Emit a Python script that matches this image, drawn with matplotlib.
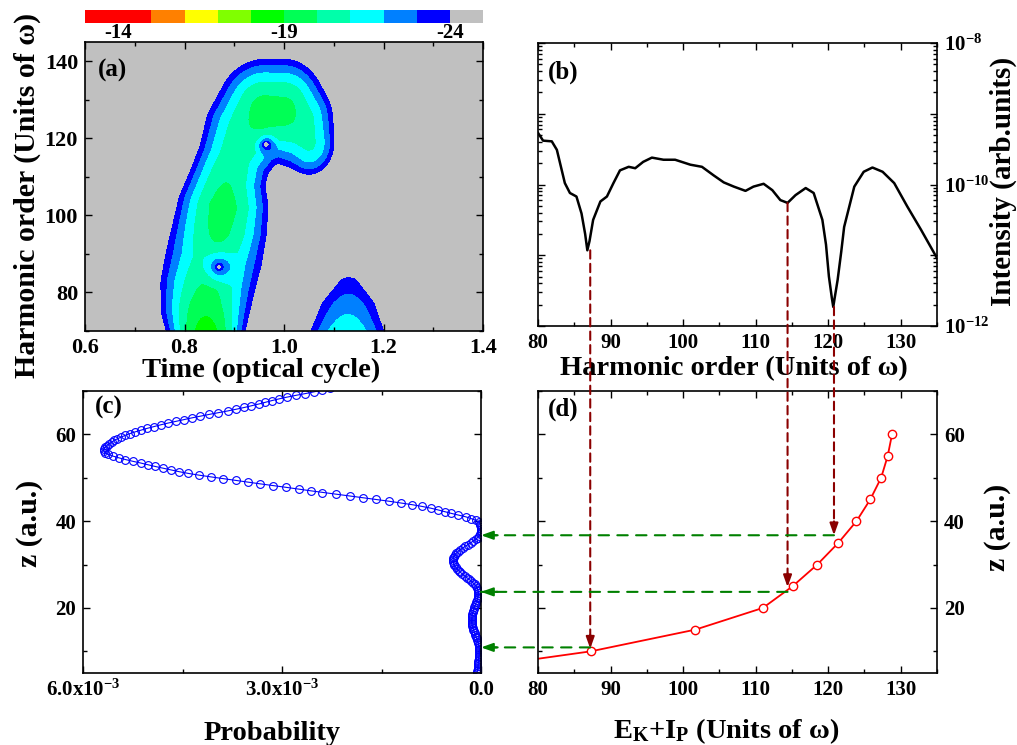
import numpy as np
import matplotlib
matplotlib.use("Agg")
import matplotlib.pyplot as plt
from matplotlib.patches import ConnectionPatch
from matplotlib.ticker import MultipleLocator, FixedLocator, FuncFormatter, NullFormatter

# ------------------------------------------------------------
# style
# ------------------------------------------------------------
plt.rcParams["font.family"] = "Liberation Serif"
plt.rcParams["font.weight"] = "bold"
plt.rcParams["axes.labelweight"] = "bold"
plt.rcParams["mathtext.fontset"] = "custom"
plt.rcParams["mathtext.rm"] = "Liberation Serif:bold"
plt.rcParams["mathtext.it"] = "Liberation Serif:bold"
plt.rcParams["mathtext.bf"] = "Liberation Serif:bold"
plt.rcParams["axes.linewidth"] = 1.2

TICK_FS = 15
XLABEL_FS = 20.5
YLABEL_FS = 21.5
PANEL_FS = 18
DARKRED = "#8B0000"
GREEN = "#008000"

# ------------------------------------------------------------
# (a) time-frequency map: colour levels and ridge description
# ------------------------------------------------------------
cb_edges = [-13, -15, -16, -17, -18, -19, -20, -21, -22, -23, -24, -25]
cb_colors = ["#FF0000", "#FF8000", "#FFFF00", "#80FF00", "#00FF00", "#00FF55",
             "#00FFAA", "#00FFFF", "#0080FF", "#0000FF", "#C0C0C0"]
cb_ticks = [-14, -19, -24]

# main ridge: time, harmonic, half width (px, along t / along H), peak log-level
ridge_time = [0.843, 0.843, 0.842, 0.847, 0.859, 0.870, 0.877, 0.884, 0.900, 0.926, 0.962, 1.000, 1.030, 1.050]
ridge_harm = [64, 70, 76, 82, 89, 96, 102, 108, 115, 122, 127, 127, 124, 119]
ridge_wt = [37, 38, 44, 47, 48, 47, 45, 38, 36, 42, 48, 42, 34, 25]
ridge_wh = [40, 40, 40, 40, 40, 40, 40, 40, 36, 44, 52, 52, 46, 32]
ridge_peak = [-18.3, -18.6, -19.4, -20.0, -20.4, -19.8, -19.6, -20.0, -20.4, -20.2, -19.6, -19.7, -20.3, -20.8]

# second (short) burst
lobe_time = [1.126, 1.129, 1.130]
lobe_harm = [66, 77, 82.5]
lobe_wt = [42, 26, 9]
lobe_wh = [6, 6, 5]
lobe_peak = [-20.5, -22.5, -23.6]

# small spot in the lower right corner
spot_time = [1.41]
spot_harm = [66]
spot_wt = [12]
spot_wh = [18]
spot_peak = [-22.5]

# interference minima inside the ridge: time, harmonic, depth, radius(px)
hole_time = [0.964, 0.869]
hole_harm = [118.5, 86.6]
hole_depth = [4.2, 3.8]
hole_rad = [14, 24]

# ------------------------------------------------------------
# (b) harmonic spectrum
# ------------------------------------------------------------
harm_order = [80.0, 80.7, 81.9, 82.6, 83.7, 84.4, 85.3, 86.0, 86.5, 86.8, 87.1, 87.6, 88.6,
              89.5, 90.4, 91.3, 92.5, 93.4, 94.5, 95.7, 97.3, 98.9, 101.0, 102.6, 104.2,
              105.6, 107.0, 108.6, 109.7, 111.1, 112.3, 113.4, 114.4, 115.5, 116.9, 118.0,
              119.2, 119.7, 120.1, 120.5, 120.7, 120.9, 121.3, 121.8, 122.2, 123.6, 124.9,
              126.1, 127.5, 129.1, 130.9, 132.8, 135.0]
log_intensity = [-9.27, -9.38, -9.39, -9.51, -9.98, -10.12, -10.17, -10.41, -10.70, -10.93,
                 -10.80, -10.50, -10.24, -10.17, -9.98, -9.80, -9.75, -9.77, -9.68, -9.62,
                 -9.65, -9.65, -9.72, -9.75, -9.87, -9.97, -10.03, -10.09, -10.03, -9.99,
                 -10.08, -10.22, -10.26, -10.15, -10.05, -10.12, -10.50, -10.85, -11.30,
                 -11.60, -11.73, -11.60, -11.35, -10.95, -10.60, -10.03, -9.82, -9.76,
                 -9.82, -9.98, -10.31, -10.64, -11.04]

# ------------------------------------------------------------
# (c) probability distribution along z (units of 1e-3)
# ------------------------------------------------------------
z_grid = np.arange(5.0, 70.61, 0.4)
prob_e3 = [
    0.058, 0.055, 0.052, 0.049, 0.046, 0.043, 0.041, 0.039, 0.036, 0.033,
    0.030, 0.028, 0.026, 0.025, 0.026, 0.029, 0.034, 0.040, 0.048, 0.057,
    0.067, 0.077, 0.087, 0.097, 0.107, 0.117, 0.126, 0.133, 0.138, 0.141,
    0.142, 0.141, 0.139, 0.135, 0.130, 0.124, 0.117, 0.109, 0.100, 0.090,
    0.080, 0.070, 0.060, 0.052, 0.046, 0.042, 0.040, 0.041, 0.046, 0.056,
    0.072, 0.094, 0.120, 0.150, 0.182, 0.215, 0.248, 0.280, 0.310, 0.337,
    0.362, 0.383, 0.400, 0.412, 0.419, 0.421, 0.418, 0.409, 0.394, 0.373,
    0.346, 0.314, 0.278, 0.239, 0.199, 0.158, 0.118, 0.082, 0.051, 0.027,
    0.011, 0.003, 0.001, 0.002, 0.005, 0.009, 0.014,
    0.03, 0.08, 0.15, 0.23, 0.34, 0.45, 0.55, 0.65, 0.76, 0.89,
    1.04, 1.21, 1.39, 1.58, 1.78, 1.98, 2.19, 2.39, 2.57, 2.75,
    2.94, 3.14, 3.33, 3.51, 3.70, 3.89, 4.07, 4.25, 4.41, 4.55,
    4.67, 4.79, 4.91, 5.02, 5.13, 5.25, 5.36, 5.46, 5.55, 5.62,
    5.67, 5.69, 5.69, 5.67, 5.64, 5.61, 5.57, 5.53, 5.48, 5.42,
    5.36, 5.29, 5.21, 5.12, 5.03, 4.93, 4.83, 4.72, 4.60, 4.48,
    4.36, 4.23, 4.10, 3.96, 3.82, 3.69, 3.57, 3.46, 3.35, 3.25,
    3.15, 3.04, 2.92, 2.79, 2.65, 2.52, 2.40, 2.28,
]

# ------------------------------------------------------------
# (d) classical energy vs. z
# ------------------------------------------------------------
ek_ip = [66.0, 87.3, 101.7, 111.0, 115.1, 118.5, 121.4, 123.9, 125.8, 127.3, 128.2, 128.8]
z_pos = [5, 10, 15, 20, 25, 30, 35, 40, 45, 50, 55, 60]

# guide arrows: spectral dips -> (d) -> (c)
dip_order = [87.2, 114.4, 120.8]
dip_log = [-10.93, -10.26, -11.73]
dip_tip_z = [10.6, 24.8, 36.75]
map_z = [10.9, 23.7, 36.75]

# ------------------------------------------------------------
# figure layout (pixel boxes of the original)
# ------------------------------------------------------------
W, H = 1017, 745
fig = plt.figure(figsize=(W / 100, H / 100), dpi=100)


def box(x0, y0, x1, y1):
    return [x0 / W, 1 - y1 / H, (x1 - x0) / W, (y1 - y0) / H]


ax_a = fig.add_axes(box(85, 42, 483, 331))
ax_cb = fig.add_axes(box(85, 10, 483, 23))
ax_b = fig.add_axes(box(538, 43, 937, 326))
ax_c = fig.add_axes(box(83, 391, 481, 673))
ax_d = fig.add_axes(box(538, 391, 937, 673))


def style(ax, fs=TICK_FS):
    ax.tick_params(which="both", direction="in", top=True, right=True, width=1.0,
                   labelsize=fs, pad=5)
    ax.tick_params(which="major", length=5)
    ax.tick_params(which="minor", length=3)


# ------------------------------------------------------------
# (a) contour map
# ------------------------------------------------------------
PX_T = 497.5   # px per optical cycle in panel (a)
PX_H = 3.85    # px per harmonic order in panel (a)
tt = np.linspace(0.6, 1.4, 481)
hh = np.linspace(70, 145, 361)
T, HG = np.meshgrid(tt, hh)
X = T * PX_T
Y = HG * PX_H


def densify(*cols, n=30):
    pts = np.column_stack(cols)
    out = []
    for a, b in zip(pts[:-1], pts[1:]):
        for f in np.linspace(0, 1, n, endpoint=False):
            out.append(a + (b - a) * f)
    out.append(pts[-1])
    return out


samples = densify(ridge_time, ridge_harm, ridge_wt, ridge_wh, ridge_peak)
samples += densify(lobe_time, lobe_harm, lobe_wt, lobe_wh, lobe_peak, n=40)
samples += list(np.column_stack([spot_time, spot_harm, spot_wt, spot_wh, spot_peak]))

F = np.full(T.shape, -59.0)
for t0, h0, wt, wh, pk in samples:
    q = ((X - t0 * PX_T) / wt) ** 2 + ((Y - h0 * PX_H) / wh) ** 2
    F = np.maximum(F, pk - (pk + 24) * q)
for t0, h0, c, R in zip(hole_time, hole_harm, hole_depth, hole_rad):
    r = np.hypot(X - t0 * PX_T, Y - h0 * PX_H)
    F += c * np.log10(np.clip(r / R, 1e-3, 1))
F = np.clip(F, -59, -13.5)

levels = [-60] + sorted(cb_edges[:-1])
ax_a.contourf(T, HG, F, levels=levels, colors=cb_colors[::-1])
ax_a.set_xlim(0.6, 1.4)
ax_a.set_ylim(70, 145)
ax_a.xaxis.set_major_locator(MultipleLocator(0.2))
ax_a.xaxis.set_minor_locator(MultipleLocator(0.1))
ax_a.yaxis.set_major_locator(MultipleLocator(20))
ax_a.yaxis.set_minor_locator(MultipleLocator(10))
ax_a.xaxis.set_major_formatter(FuncFormatter(lambda v, p: f"{v:.1f}"))
style(ax_a, 16)
ax_a.set_xlabel("Time (optical cycle)", fontsize=XLABEL_FS, labelpad=0)
ax_a.xaxis.label.set_x(0.442)
ax_a.set_ylabel("Harmonic order (Units of ω)", fontsize=YLABEL_FS, labelpad=3)
ax_a.yaxis.label.set_y(0.47)
ax_a.text(0.033, 0.903, "(a)", transform=ax_a.transAxes, fontsize=PANEL_FS, va="center")

# colour bar
for i, c in enumerate(cb_colors):
    ax_cb.axvspan(cb_edges[i], cb_edges[i + 1], color=c, lw=0)
ax_cb.set_xlim(cb_edges[0], cb_edges[-1])
ax_cb.set_ylim(0, 1)
ax_cb.set_yticks([])
ax_cb.set_xticks(cb_ticks)
ax_cb.set_xticklabels([str(v) for v in cb_ticks])
ax_cb.tick_params(axis="x", length=0, labelsize=TICK_FS, pad=0)
for s in ax_cb.spines.values():
    s.set_visible(False)

# ------------------------------------------------------------
# (b) spectrum
# ------------------------------------------------------------
ax_b.semilogy(harm_order, 10 ** np.array(log_intensity), color="black", lw=1.8)
ax_b.set_xlim(80, 135)
ax_b.set_ylim(1e-12, 1e-8)
ax_b.xaxis.set_major_locator(MultipleLocator(10))
ax_b.xaxis.set_minor_locator(MultipleLocator(5))
ax_b.yaxis.set_major_locator(FixedLocator([10.0 ** e for e in range(-12, -7)]))
ax_b.yaxis.set_minor_locator(FixedLocator([m * 10.0 ** e for e in range(-12, -8) for m in range(2, 10)]))
ax_b.yaxis.set_minor_formatter(NullFormatter())


def log_label(v, pos):
    e = int(round(np.log10(v)))
    return "10$^{%d}$" % e if e % 2 == 0 else ""


ax_b.yaxis.set_major_formatter(FuncFormatter(log_label))
style(ax_b)
ax_b.tick_params(axis="y", labelleft=False, labelright=True)
ax_b.yaxis.set_label_position("right")
ax_b.set_ylabel("Intensity (arb.units)", fontsize=21, labelpad=0)
ax_b.yaxis.label.set_y(0.51)
ax_b.set_xlabel("Harmonic order (Units of ω)", fontsize=XLABEL_FS, labelpad=2)
ax_b.xaxis.label.set_x(0.491)
ax_b.text(0.025, 0.895, "(b)", transform=ax_b.transAxes, fontsize=PANEL_FS, va="center")

# ------------------------------------------------------------
# (c) probability
# ------------------------------------------------------------
ax_c.plot(np.array(prob_e3) * 1e-3, z_grid, color="blue", lw=0.8, marker="o", ms=5.6,
          mfc="none", mec="blue", mew=0.8)
ax_c.set_xlim(6e-3, 0)
ax_c.set_ylim(5, 70)
ax_c.xaxis.set_major_locator(MultipleLocator(3e-3))
ax_c.xaxis.set_minor_locator(MultipleLocator(1.5e-3))


def prob_label(v, pos):
    if abs(v) < 1e-9:
        return "0.0"
    return "%.1fx10$^{-3}$" % (v * 1e3)


ax_c.xaxis.set_major_formatter(FuncFormatter(prob_label))
ax_c.yaxis.set_major_locator(MultipleLocator(20))
ax_c.yaxis.set_minor_locator(MultipleLocator(10))
style(ax_c)
ax_c.set_xlabel("Probability", fontsize=XLABEL_FS, labelpad=14)
ax_c.xaxis.label.set_x(0.475)
ax_c.set_ylabel("z (a.u.)", fontsize=YLABEL_FS, labelpad=9)
ax_c.yaxis.label.set_y(0.53)
ax_c.text(0.03, 0.94, "(c)", transform=ax_c.transAxes, fontsize=PANEL_FS, va="center")

# ------------------------------------------------------------
# (d) energy vs z
# ------------------------------------------------------------
ax_d.plot(ek_ip, z_pos, color="red", lw=1.3)
ax_d.plot(ek_ip[1:], z_pos[1:], ls="none", marker="o", ms=6.0, mfc="white", mec="red", mew=1.0)
ax_d.set_xlim(80, 135)
ax_d.set_ylim(5, 70)
ax_d.xaxis.set_major_locator(MultipleLocator(10))
ax_d.xaxis.set_minor_locator(MultipleLocator(5))
ax_d.yaxis.set_major_locator(MultipleLocator(20))
ax_d.yaxis.set_minor_locator(MultipleLocator(10))
style(ax_d)
ax_d.tick_params(axis="y", labelleft=False, labelright=True)
ax_d.yaxis.set_label_position("right")
ax_d.set_ylabel("z (a.u.)", fontsize=YLABEL_FS, labelpad=14)
ax_d.yaxis.label.set_y(0.517)
ax_d.set_xlabel(r"E$_{\mathrm{K}}$+I$_{\mathrm{P}}$ (Units of ω)", fontsize=XLABEL_FS, labelpad=12)
ax_d.xaxis.label.set_x(0.471)
ax_d.text(0.025, 0.936, "(d)", transform=ax_d.transAxes, fontsize=PANEL_FS, va="center")

# ------------------------------------------------------------
# guide arrows
# ------------------------------------------------------------
for x0, lg, zt in zip(dip_order, dip_log, dip_tip_z):
    con = ConnectionPatch(xyA=(x0, 10 ** lg), coordsA=ax_b.transData,
                          xyB=(x0, zt + 2.5), coordsB=ax_d.transData,
                          color=DARKRED, lw=1.5, linestyle=(0, (4, 2.5)), zorder=20)
    fig.add_artist(con)
    ax_d.annotate("", xy=(x0, zt), xytext=(x0, zt + 3.2),
                  arrowprops=dict(arrowstyle="-|>,head_length=0.7,head_width=0.25",
                                  color=DARKRED, lw=1.5, shrinkA=0, shrinkB=0))

for x0, zg in zip(dip_order, map_z):
    con = ConnectionPatch(xyA=(x0, zg), coordsA=ax_d.transData,
                          xyB=(0, zg), coordsB=ax_c.transData,
                          color=GREEN, lw=1.5, linestyle=(0, (5, 4)), zorder=20)
    fig.add_artist(con)
    ax_c.annotate("", xy=(0, zg), xytext=(12, 0), xycoords="data", textcoords="offset points",
                  arrowprops=dict(arrowstyle="-|>,head_length=0.7,head_width=0.25",
                                  color=GREEN, lw=1.5, shrinkA=0, shrinkB=0),
                  annotation_clip=False)

fig.savefig("out.png", dpi=100)
